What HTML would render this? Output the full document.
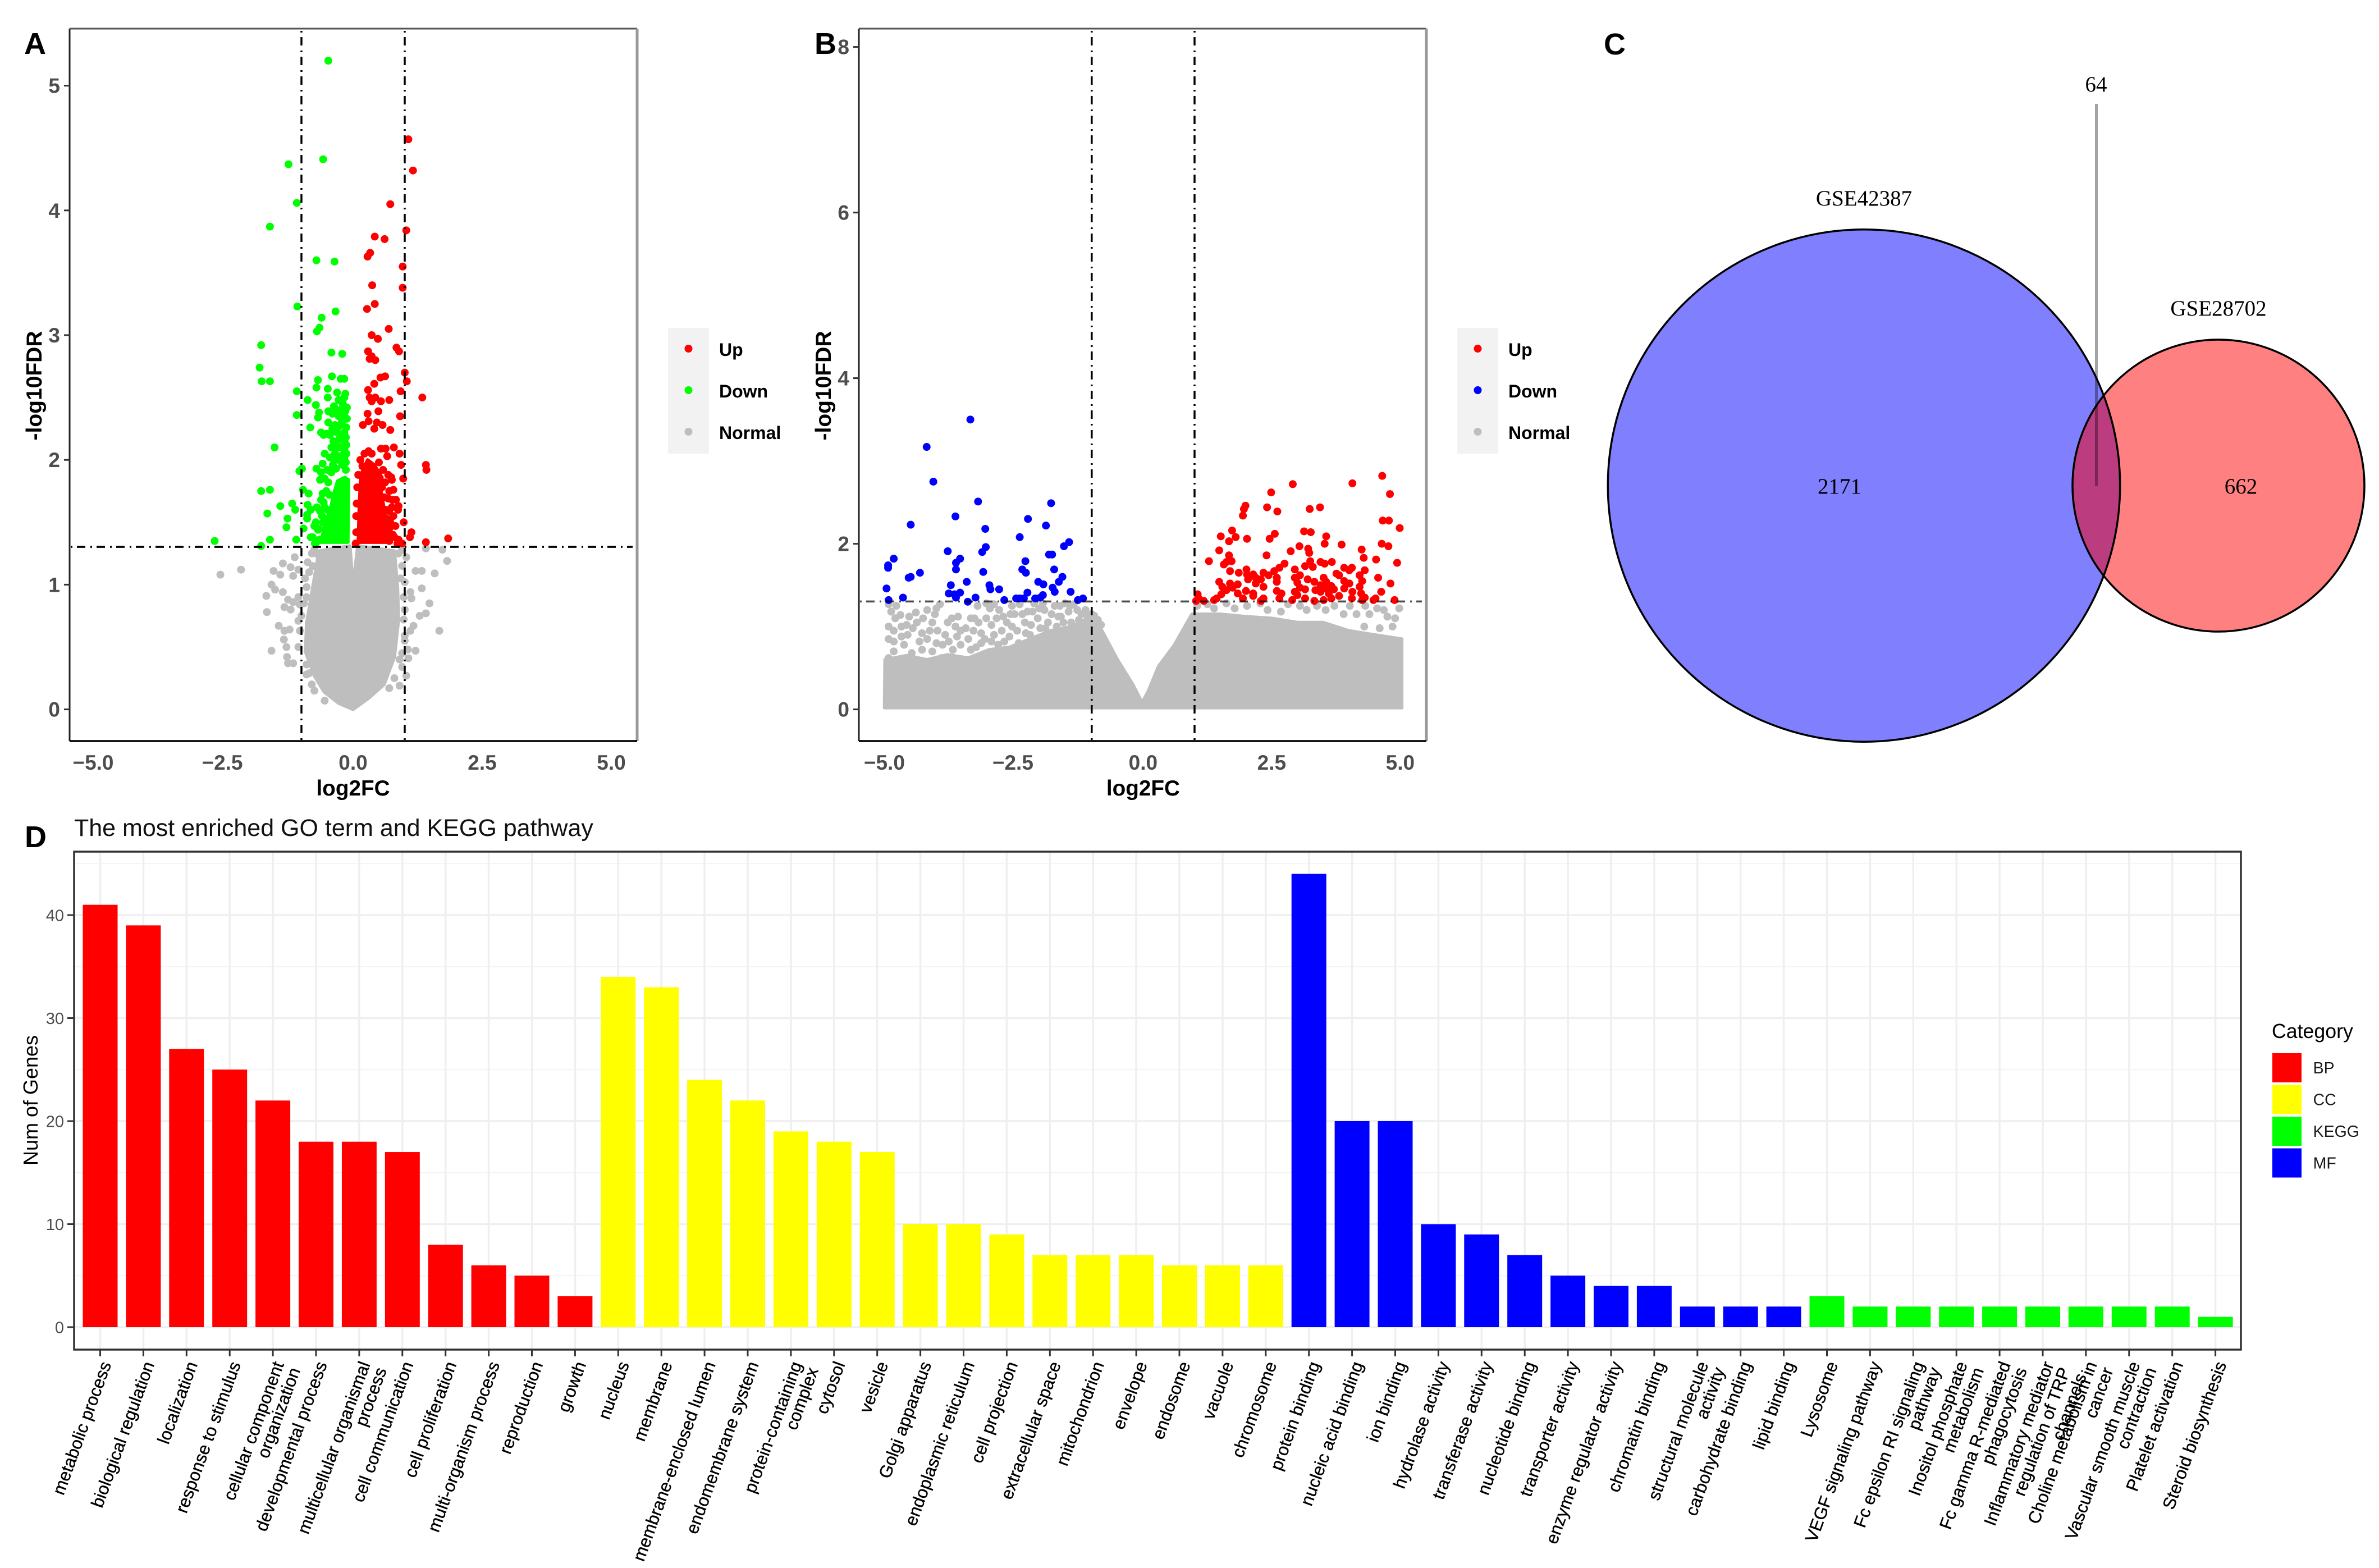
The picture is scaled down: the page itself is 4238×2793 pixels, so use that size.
<!DOCTYPE html>
<html lang="en">
<head>
<meta charset="utf-8">
<title>Volcano plots, Venn diagram and enrichment bar chart</title>
<style>
html,body{margin:0;padding:0;background:#fff;}
svg{display:block;font-family:"Liberation Sans",sans-serif;}
</style>
</head>
<body>
<svg id="figure" xmlns="http://www.w3.org/2000/svg" width="4238" height="2793" viewBox="0 0 4238 2793">
<rect x="0" y="0" width="4238" height="2793" fill="#fff"/>
<g id="panelA"></g>
<g id="panelB"></g>
<g id="panelC"></g>
<g id="panelD"></g>
<text x="43" y="96" font-size="54" font-weight="700" fill="#000">A</text>
<text x="1451" y="96" font-size="54" font-weight="700" fill="#000">B</text>
<text x="2857" y="97" font-size="54" font-weight="700" fill="#000">C</text>
<text x="44" y="1509" font-size="54" font-weight="700" fill="#000">D</text>
</svg>
<script>
/* ---------- Panel A values (log2FC, -log10FDR) ---------- */
const aXTicks = [-5, -2.5, 0, 2.5, 5];
const aYTicks = [0, 1, 2, 3, 4, 5];
const aLegend = ['Up', 'Down', 'Normal'];
const aUp = [[1.07,4.57],[1.16,4.32],[.72,4.05],[1.03,3.84],[.42,3.79],[.61,3.77],[.33,3.66],[.28,3.63],[.96,3.55],[.37,3.40],[.96,3.38],[.42,3.25],[.27,3.21],[.69,3.05],[.36,3.00],[.48,2.97],[.84,2.90],[.89,2.87],[.29,2.87],[.36,2.83],[.32,2.81],[.43,2.80],[1.0,2.70],[.62,2.67],[.53,2.66],[1.04,2.63],[.41,2.61],[.29,2.56],[.92,2.55],[1.34,2.50],[.32,2.50],[.43,2.50],[.36,2.47],[.54,2.47],[.70,2.48],[.28,2.37],[.49,2.39],[.91,2.35],[.46,2.30],[.57,2.28],[.19,2.28],[.30,2.31],[.41,2.25],[.72,2.24],[.54,2.09],[.63,2.09],[.79,2.10],[.90,2.05],[.66,2.03],[.93,1.96],[1.41,1.96],[1.42,1.92],[.97,1.85],[.74,1.86],[.75,1.84],[.78,1.76],[.68,1.69],[.83,1.68],[.88,1.63],[.70,1.59],[.98,1.50],[1.13,1.42],[1.10,1.38],[1.41,1.34],[1.84,1.37],[.70,1.45],[.77,1.40],[.86,1.33],[.95,1.33],[.3,2.07],[.22,2.05],[.14,2.0],[.36,2.05],[.18,1.95],[.1,1.88],[.08,1.78],[.07,1.65],[.06,1.55],[.06,1.42],[.5,1.98],[.58,1.92],[.62,1.82],[.68,1.88],[.56,1.78],[.6,1.7],[.7,1.75],[.76,1.68],[.64,1.6],[.78,1.55],[.72,1.5],[.82,1.47],[.8,1.38],[.88,1.36],[.62,1.45],[.58,1.38],[.7,1.35],[.75,1.62],[.87,1.6],[.65,1.53],[.05,1.33]];
const aDown = [[-.48,5.20],[-.58,4.41],[-1.25,4.37],[-1.09,4.06],[-1.61,3.87],[-.71,3.60],[-.36,3.59],[-1.08,3.23],[-.34,3.19],[-.61,3.14],[-.65,3.06],[-.70,3.03],[-1.78,2.92],[-.42,2.86],[-.21,2.85],[-1.81,2.74],[-1.77,2.63],[-1.61,2.63],[-.41,2.67],[-.68,2.64],[-.71,2.58],[-.24,2.65],[-.17,2.65],[-.49,2.57],[-1.09,2.55],[-.31,2.54],[-.15,2.53],[-.49,2.50],[-.17,2.50],[-.88,2.48],[-.28,2.48],[-.72,2.44],[-.37,2.43],[-1.09,2.36],[-.66,2.38],[-.68,2.34],[-.48,2.39],[-.32,2.38],[-.15,2.39],[-.17,2.35],[-.28,2.35],[-.48,2.30],[-.35,2.28],[-.83,2.26],[-.13,2.26],[-.62,2.22],[-.51,2.21],[-.57,2.20],[-.31,2.22],[-.17,2.22],[-.31,2.15],[-.17,2.15],[-1.52,2.10],[-.55,2.05],[-.35,2.05],[-.17,2.08],[-.24,2.03],[-.17,2.01],[-.59,1.97],[-.39,1.96],[-.21,1.96],[-.99,1.93],[-1.04,1.91],[-.71,1.93],[-.62,1.90],[-.64,1.84],[-1.78,1.75],[-1.61,1.76],[-.97,1.76],[-.86,1.73],[-.59,1.73],[-1.41,1.63],[-1.18,1.65],[-1.12,1.60],[-.88,1.64],[-.82,1.60],[-1.66,1.57],[-1.27,1.53],[-1.29,1.46],[-.89,1.56],[-.89,1.53],[-.64,1.59],[-.57,1.66],[-.96,1.45],[-.75,1.47],[-1.61,1.36],[-1.10,1.36],[-.82,1.38],[-1.78,1.31],[-2.68,1.35],[-.68,1.44],[-.71,1.34],[-.12,2.42],[-.2,2.45],[-.25,2.4],[-.4,2.37],[-.22,2.3],[-.12,2.33],[-.27,2.27],[-.4,2.25],[-.45,2.2],[-.14,2.18],[-.25,2.18],[-.38,2.15],[-.13,2.12],[-.23,2.1],[-.3,2.1],[-.42,2.1],[-.13,2.05],[-.28,2.0],[-.36,2.0],[-.45,2.02],[-.14,1.98],[-.5,1.92],[-.42,1.9],[-.33,1.93],[-.14,1.92],[-.55,1.85],[-.48,1.82],[-.52,1.75],[-.46,1.72],[-.62,1.68],[-.7,1.62],[-.55,1.62],[-.6,1.55],[-.72,1.5],[-.66,1.45],[-.78,1.38],[-.74,1.33],[-.65,1.36],[-.58,1.5],[-.5,1.6]];
const aNormal = [[-2.57,1.08],[-2.17,1.12],[-1.54,1.11],[-1.41,1.08],[-1.36,1.17],[-1.13,1.22],[-1.21,1.14],[-1.06,1.12],[-1.16,1.07],[-1.58,1.00],[-1.51,.96],[-1.36,.94],[-1.68,.91],[-1.26,.88],[-1.16,.86],[-1.33,.82],[-1.67,.78],[-1.21,.80],[-1.06,.90],[-1.44,.67],[-1.33,.63],[-1.23,.64],[-1.34,.56],[-1.29,.50],[-1.58,.47],[-1.28,.42],[-1.26,.37],[-1.16,.37],[-1.06,.50],[-1.03,.63],[-1.06,.71],[-.90,.36],[-.85,.29],[-.80,.20],[-1.03,.84],[-.90,.90],[-.93,1.05],[-.88,1.18],[-.8,1.25],[1.03,1.22],[1.41,1.29],[1.73,1.28],[1.82,1.19],[1.33,1.11],[1.58,1.09],[1.21,1.11],[1.33,.97],[1.48,.85],[1.11,.94],[1.13,.89],[1.41,.77],[1.29,.75],[1.67,.63],[1.17,.67],[1.11,.63],[1.0,.59],[1.21,.47],[1.07,.41],[1.03,.27],[.95,.34],[.90,.19],[1.0,.80],[1.06,.48],[.95,1.15],[1.0,1.02],[.98,.9],[-.75,1.28],[-.68,1.24],[-.78,1.15],[-.85,1.1],[-.9,.98],[-.95,.85],[-1.0,.75],[.88,1.25],[.95,1.28],[.92,1.05],[.98,.72],[1.0,.55],[.95,.45],[.9,.4],[.8,.25],[.7,.17],[-.9,.28],[-.75,.15],[-.55,.07]];
/* dense interior outlines of the overplotted clouds */
const aNormalCore = [[0,.0],[.3,.09],[.6,.2],[.8,.42],[.88,.72],[.86,.98],[.8,1.27],[.09,1.31],[.035,1.11],[.008,.86],[-.025,1.11],[-.06,1.31],[-.66,1.27],[-.78,.98],[-.9,.69],[-.92,.46],[-.75,.27],[-.56,.14],[-.28,.05]];
const aUpCore = [[.1,1.34],[.12,1.64],[.15,1.88],[.28,2.0],[.41,1.96],[.56,1.86],[.54,1.75],[.62,1.56],[.68,1.4],[.74,1.34]];
const aDownCore = [[-.1,1.34],[-.09,1.84],[-.16,1.86],[-.3,1.83],[-.38,1.72],[-.44,1.6],[-.54,1.5],[-.6,1.38],[-.64,1.34]];

/* ---------- Panel B values (log2FC, -log10FDR) ---------- */
const bXTicks = [-5, -2.5, 0, 2.5, 5];
const bYTicks = [0, 2, 4, 6, 8];
const bLegend = ['Up', 'Down', 'Normal'];
const bDown = [[-3.36,3.50],[-4.21,3.17],[-4.08,2.75],[-3.21,2.51],[-1.79,2.49],[-3.65,2.33],[-2.24,2.30],[-4.52,2.23],[-1.89,2.22],[-3.07,2.18],[-2.40,2.08],[-1.44,2.02],[-1.54,1.97],[-3.06,1.96],[-3.13,1.90],[-3.80,1.91],[-1.83,1.87],[-1.77,1.87],[-4.85,1.82],[-3.56,1.82],[-3.64,1.77],[-2.29,1.79],[-4.96,1.74],[-4.96,1.71],[-3.64,1.69],[-2.35,1.69],[-2.28,1.65],[-1.73,1.69],[-3.11,1.66],[-4.34,1.65],[-4.52,1.60],[-4.56,1.59],[-1.57,1.60],[-1.64,1.54],[-2.04,1.54],[-1.94,1.51],[-3.43,1.54],[-3.74,1.50],[-2.99,1.50],[-2.97,1.45],[-4.99,1.46],[-2.80,1.45],[-1.76,1.47],[-1.72,1.42],[-1.41,1.42],[-3.78,1.40],[-3.67,1.39],[-3.56,1.41],[-3.64,1.35],[-2.25,1.41],[-1.95,1.38],[-2.0,1.35],[-2.10,1.34],[-3.26,1.35],[-4.67,1.35],[-2.40,1.34],[-2.47,1.34],[-2.32,1.34],[-1.27,1.32],[-1.17,1.34],[-4.95,1.32],[-3.41,1.30],[-2.70,1.32]];
const bUp = [[4.65,2.82],[2.91,2.72],[4.07,2.73],[2.49,2.62],[4.80,2.60],[1.99,2.46],[2.41,2.44],[1.96,2.42],[3.24,2.42],[3.44,2.44],[2.61,2.39],[1.94,2.34],[4.66,2.28],[4.78,2.28],[4.99,2.19],[1.73,2.16],[3.13,2.15],[3.26,2.14],[2.56,2.12],[1.51,2.09],[3.56,2.09],[1.80,2.08],[2.02,2.06],[1.67,2.03],[2.46,2.06],[4.64,2.00],[3.86,1.99],[3.53,2.0],[4.77,1.97],[3.04,1.97],[4.25,1.93],[3.21,1.94],[1.48,1.92],[2.87,1.91],[2.40,1.86],[3.23,1.89],[1.67,1.86],[4.29,1.83],[4.53,1.81],[3.67,1.78],[1.28,1.79],[4.94,1.77],[1.72,1.79],[1.62,1.78],[3.25,1.79],[3.45,1.78],[3.53,1.76],[2.75,1.76],[1.57,1.75],[3.15,1.73],[3.30,1.72],[2.65,1.71],[3.91,1.71],[4.06,1.71],[4.01,1.68],[2.95,1.69],[2.01,1.69],[2.55,1.67],[4.31,1.68],[1.69,1.67],[1.86,1.65],[3.76,1.64],[2.02,1.63],[2.14,1.63],[2.34,1.65],[3.81,1.62],[4.21,1.62],[3.05,1.62],[2.19,1.59],[2.44,1.62],[2.60,1.59],[4.57,1.59],[2.95,1.59],[3.51,1.59],[2.04,1.57],[2.29,1.57],[3.20,1.57],[3.91,1.55],[1.48,1.54],[4.26,1.55],[3.33,1.54],[2.19,1.52],[2.60,1.54],[1.69,1.52],[3.00,1.53],[3.56,1.54],[4.81,1.52],[4.01,1.52],[1.84,1.51],[1.54,1.48],[3.45,1.50],[3.66,1.49],[2.34,1.48],[3.05,1.47],[4.21,1.48],[1.74,1.47],[3.56,1.46],[3.91,1.46],[3.15,1.45],[1.62,1.44],[2.60,1.43],[3.35,1.44],[3.71,1.45],[2.0,1.43],[4.63,1.42],[2.95,1.42],[3.45,1.42],[4.07,1.42],[1.84,1.40],[2.14,1.40],[2.69,1.40],[3.61,1.40],[4.24,1.40],[1.06,1.39],[1.52,1.39],[3.0,1.38],[2.14,1.37],[3.81,1.37],[4.31,1.35],[1.08,1.34],[1.43,1.34],[4.52,1.34],[2.34,1.34],[1.94,1.34],[3.15,1.34],[3.66,1.34],[2.65,1.34],[4.06,1.34],[1.03,1.31],[1.18,1.31],[1.38,1.32],[2.29,1.31],[2.90,1.32],[3.33,1.31],[3.51,1.32],[4.26,1.32],[4.89,1.32],[4.48,1.32]];
const bNormal = [[-4.95,1.27],[-4.9,1.18],[-4.82,1.1],[-4.95,1.0],[-4.85,.95],[-4.7,.88],[-4.95,.85],[-4.55,1.12],[-4.42,1.17],[-4.4,1.05],[-4.48,.98],[-4.3,.92],[-4.15,.95],[-4.2,.85],[-4.65,.78],[-4.85,.7],[-4.95,.62],[-4.5,.68],[-4.3,.72],[-4.1,.7],[-4.02,.8],[-4.05,1.15],[-4.02,1.22],[-3.95,1.27],[-3.92,.62],[-3.9,.78],[-3.8,1.05],[-3.72,1.1],[-3.65,1.0],[-3.6,1.12],[-3.55,.95],[-3.75,.62],[-3.7,.72],[-3.55,.78],[-3.4,.85],[-3.35,.72],[-3.25,.75],[-3.15,.8],[-3.35,1.1],[-3.28,1.1],[-3.2,1.05],[-3.22,1.25],[-3.05,1.28],[-2.98,1.22],[-2.9,1.27],[-2.8,1.2],[-2.85,1.1],[-2.95,1.02],[-2.9,.9],[-2.95,.82],[-2.82,.78],[-2.75,.95],[-2.65,1.05],[-2.6,.88],[-2.55,1.25],[-2.5,1.15],[-2.4,1.27],[-2.45,.95],[-2.42,.8],[-2.3,1.05],[-2.25,1.18],[-2.2,.9],[-2.12,1.28],[-2.05,1.1],[-2.0,.98],[-1.95,1.28],[-1.92,1.2],[-1.85,1.05],[-1.8,.9],[-1.78,1.15],[-1.68,1.0],[-1.62,1.25],[-1.6,1.12],[-1.5,.95],[-1.45,1.18],[-1.4,1.05],[-1.35,1.27],[-1.3,.98],[-1.2,1.15],[-1.15,1.05],[-1.08,1.12],[-1.0,1.15],[-.95,1.13],[-.88,1.08],[-.82,1.02],[-4.8,1.25],[-4.6,1.02],[-4.72,1.14],[-4.28,1.1],[-4.2,1.2],[-4.7,1.0],[-4.85,.82],[-4.58,.9],[-4.35,.82],[-4.1,1.05],[-4.0,.95],[-3.85,.9],[-3.78,.82],[-3.62,.88],[-3.45,.98],[-3.3,.95],[-3.15,.92],[-3.05,1.1],[-3.08,.85],[-2.72,1.12],[-2.7,.82],[-2.58,1.15],[-2.55,1.0],[-2.35,1.15],[-2.28,.92],[-2.18,1.02],[-2.15,1.18],[-2.02,1.22],[-1.9,.98],[-1.72,1.25],[-1.65,1.12],[-1.52,1.28],[-1.55,1.05],[-1.42,1.25],[-1.28,1.2],[-1.25,1.08],[-1.12,1.2],[-1.05,1.05],[1.05,1.25],[1.25,1.27],[1.38,1.22],[1.62,1.28],[1.78,1.22],[2.02,1.25],[2.28,1.28],[2.42,1.2],[2.68,1.18],[2.82,1.27],[3.05,1.25],[3.18,1.2],[3.38,1.25],[3.55,1.2],[3.72,1.25],[3.9,1.15],[4.02,1.25],[4.15,1.15],[4.32,1.25],[4.4,1.15],[4.55,1.22],[4.68,1.2],[4.75,1.12],[4.9,1.1],[4.98,1.22],[4.3,1.0],[4.6,.98],[4.85,1.0]];
const bNormalCore = [[-5.03,.02],[-5.02,.6],[-4.6,.65],[-4.2,.6],[-3.8,.66],[-3.4,.62],[-3,.72],[-2.6,.75],[-2.2,.85],[-1.8,.95],[-1.4,1.0],[-1.0,1.12],[-.8,.95],[-.5,.6],[-.2,.3],[-.02,.08],[.1,.22],[.3,.52],[.6,.77],[.95,1.15],[1.5,1.15],[2,1.12],[2.5,1.1],[3,1.05],[3.5,1.05],[4,.95],[4.5,.9],[5.03,.85],[5.03,.02]];

/* ---------- Panel C values ---------- */
const vennNames = ['GSE42387', 'GSE28702'];
const vennOnly = [2171, 662];
const vennShared = [64];

/* ---------- Panel D values ---------- */
const termNames = ['metabolic process','biological regulation','localization','response to stimulus','cellular component\norganization','developmental process','multicellular organismal\nprocess','cell communication','cell proliferation','multi-organism process','reproduction','growth','nucleus','membrane','membrane-enclosed lumen','endomembrane system','protein-containing\ncomplex','cytosol','vesicle','Golgi apparatus','endoplasmic reticulum','cell projection','extracellular space','mitochondrion','envelope','endosome','vacuole','chromosome','protein binding','nucleic acid binding','ion binding','hydrolase activity','transferase activity','nucleotide binding','transporter activity','enzyme regulator activity','chromatin binding','structural molecule\nactivity','carbohydrate binding','lipid binding','Lysosome','VEGF signaling pathway','Fc epsilon RI signaling\npathway','Inositol phosphate\nmetabolism','Fc gamma R-mediated\nphagocytosis','Inflammatory mediator\nregulation of TRP\nchannels','Choline metabolism in\ncancer','Vascular smooth muscle\ncontraction','Platelet activation','Steroid biosynthesis'];
const geneCounts = [41,39,27,25,22,18,18,17,8,6,5,3,34,33,24,22,19,18,17,10,10,9,7,7,7,6,6,6,44,20,20,10,9,7,5,4,4,2,2,2,3,2,2,2,2,2,2,2,2,1];
const termCategories = ['BP','BP','BP','BP','BP','BP','BP','BP','BP','BP','BP','BP','CC','CC','CC','CC','CC','CC','CC','CC','CC','CC','CC','CC','CC','CC','CC','CC','MF','MF','MF','MF','MF','MF','MF','MF','MF','MF','MF','MF','KEGG','KEGG','KEGG','KEGG','KEGG','KEGG','KEGG','KEGG','KEGG','KEGG'];
const categoryLegend = ['BP','CC','KEGG','MF'];
const countTicks = [0,10,20,30,40];
const countMinorTicks = [5,15,25,35,45];

/* ---------- helpers ---------- */
const NS = 'http://www.w3.org/2000/svg';
function make(parent, tag, attrs, text) {
  const el = document.createElementNS(NS, tag);
  for (const k in attrs) el.setAttribute(k, attrs[k]);
  if (text !== undefined) el.textContent = text;
  parent.appendChild(el);
  return el;
}
function fmtX(v) {
  return (v < 0 ? '\u2212' : '') + Math.abs(v).toFixed(1);
}
function coreFill(parent, pts, sx, sy, color, name, strokeWidth) {
  const el = make(parent, 'polygon', {points: pts.map(p => sx(p[0]) + ',' + sy(p[1])).join(' '), fill: color, stroke: color, 'stroke-width': strokeWidth, 'stroke-linejoin': 'round'});
  
  
}
function dots(parent, pts, sx, sy, color, name) {
  for (const p of pts) {
    const el = make(parent, 'circle', {cx: sx(p[0]), cy: sy(p[1]), r: 7, fill: color});
    
    
  }
}

/* ---------- volcano panels ---------- */
function volcano(cfg) {
  const g = document.getElementById(cfg.id);
  const sx = v => cfg.x0 + v * cfg.xu;
  const sy = v => cfg.y0 - v * cfg.yu;

  coreFill(g, cfg.normalCore, sx, sy, '#bebebe', 'normal-point-cloud', 6);
  dots(g, cfg.normal, sx, sy, '#bebebe', 'normal-point');
  if (cfg.upCore) coreFill(g, cfg.upCore, sx, sy, cfg.upColor, 'up-point-cloud', 6);
  if (cfg.downCore) coreFill(g, cfg.downCore, sx, sy, cfg.downColor, 'down-point-cloud', 6);
  dots(g, cfg.up, sx, sy, cfg.upColor, 'up-point');
  dots(g, cfg.down, sx, sy, cfg.downColor, 'down-point');

  const dash = '3 8 15 9';
  for (const v of [-1, 1]) {
    const l = make(g, 'line', {x1: sx(v), x2: sx(v), y1: cfg.top + 4, y2: cfg.bottom - 2, stroke: '#000', 'stroke-width': 3.5, 'stroke-dasharray': dash});
    
    
  }
  const h = make(g, 'line', {x1: cfg.left + 2, x2: cfg.right - 8, y1: sy(1.303), y2: sy(1.303), stroke: '#000', 'stroke-opacity': cfg.hOpacity, 'stroke-width': 3.5, 'stroke-dasharray': dash});
  
  

  const top = make(g, 'line', {x1: cfg.left, x2: cfg.right, y1: cfg.top, y2: cfg.top, stroke: '#555', 'stroke-width': 3});
  
  
  const right = make(g, 'line', {x1: cfg.right, x2: cfg.right, y1: cfg.top, y2: cfg.bottom, stroke: '#999', 'stroke-width': 5});
  
  
  const leftAxis = make(g, 'line', {x1: cfg.left, x2: cfg.left, y1: cfg.top, y2: cfg.bottom, stroke: '#222', 'stroke-width': 3});
  
  
  const bottomAxis = make(g, 'line', {x1: cfg.left, x2: cfg.right, y1: cfg.bottom, y2: cfg.bottom, stroke: '#000', 'stroke-width': 3.5});
  
  

  for (const v of cfg.xTicks) {
    const t = make(g, 'text', {x: sx(v) - (v < 0 ? 3 : 0), y: 1371, 'text-anchor': 'middle', 'font-size': 37, 'font-weight': 700, fill: '#4d4d4d'}, fmtX(v));
    
    
  }
  for (const v of cfg.yTicks) {
    const m = make(g, 'line', {x1: cfg.left - 10, x2: cfg.left, y1: sy(v), y2: sy(v), stroke: '#333', 'stroke-width': 3});
    
    
    const t = make(g, 'text', {x: cfg.left - 17, y: sy(v) + 13, 'text-anchor': 'end', 'font-size': 37, 'font-weight': 700, fill: '#4d4d4d'}, String(v));
    
    
  }
  const xt = make(g, 'text', {x: sx(0), y: 1417, 'text-anchor': 'middle', 'font-size': 38.7, 'font-weight': 700, fill: '#000'}, 'log2FC');
  
  
  const yt = make(g, 'text', {transform: 'translate(' + (cfg.left - 50) + ',687) rotate(-90)', 'text-anchor': 'middle', 'font-size': 39, 'font-weight': 700, fill: '#000'}, '-log10FDR');
  
  

  const legendX = cfg.right + 55;
  const box = make(g, 'rect', {x: legendX, y: 584, width: 73, height: 224, fill: '#f2f2f2'});
  
  
  const colors = [cfg.upColor, cfg.downColor, '#bebebe'];
  cfg.legend.forEach((label, i) => {
    const y = 621 + i * 74;
    const d = make(g, 'circle', {cx: legendX + 36.5, cy: y, r: 7, fill: colors[i]});
    
    
    const t = make(g, 'text', {x: legendX + 91, y: y + 13, 'font-size': 32, 'font-weight': 700, fill: '#000'}, label);
    
    
  });
}
volcano({id:'panelA', left:124, right:1135, top:51, bottom:1320, x0:629, xu:92, y0:1263.6, yu:222.2,
  up:aUp, down:aDown, normal:aNormal, normalCore:aNormalCore, upCore:aUpCore, downCore:aDownCore,
  upColor:'#ff0000', downColor:'#00ff00', xTicks:aXTicks, yTicks:aYTicks, legend:aLegend, hOpacity:1});
volcano({id:'panelB', left:1530, right:2541, top:51, bottom:1320, x0:2036.4, xu:91.6, y0:1263.6, yu:147.5,
  up:bUp, down:bDown, normal:bNormal, normalCore:bNormalCore,
  upColor:'#ff0000', downColor:'#0000ff', xTicks:bXTicks, yTicks:bYTicks, legend:bLegend, hOpacity:.7});

/* ---------- Venn ---------- */
(function () {
  const g = document.getElementById('panelC');
  const areaScale = 9.65;
  const cy = 865;
  const cxs = [3320.5, 3952];
  const rs = vennOnly.map(n => areaScale * Math.sqrt(n + vennShared[0]));
  const fills = ['#8080ff', '#ff8080'];
  const defs = make(g, 'defs', {});
  const clip = make(defs, 'clipPath', {id: 'leftSetClip'});
  make(clip, 'circle', {cx: cxs[0], cy: cy, r: rs[0]});
  vennNames.forEach((n, i) => {
    const c = make(g, 'circle', {cx: cxs[i], cy: cy, r: rs[i], fill: fills[i]});
    
    
  });
  const lens = make(g, 'circle', {cx: cxs[1], cy: cy, r: rs[1], fill: '#bc3c80', 'clip-path': 'url(#leftSetClip)'});
  
  
  const lead = make(g, 'line', {x1: 3734.5, x2: 3734.5, y1: 185, y2: 866, stroke: '#000', 'stroke-opacity': .36, 'stroke-width': 5});
  
  
  vennNames.forEach((n, i) => {
    const c = make(g, 'circle', {cx: cxs[i], cy: cy, r: rs[i], fill: 'none', stroke: '#000', 'stroke-width': 3.5});
    
    
    const t = make(g, 'text', {x: cxs[i], y: cy - rs[i] - 43, 'text-anchor': 'middle', 'font-family': '"Liberation Serif",serif', 'font-size': 39, fill: '#000'}, n);
    
    
  });
  const countX = [3277, 3992];
  vennOnly.forEach((n, i) => {
    const t = make(g, 'text', {x: countX[i], y: 879, 'text-anchor': 'middle', 'font-family': '"Liberation Serif",serif', 'font-size': 39, fill: '#000'}, String(n));
    
    
  });
  const sh = make(g, 'text', {x: 3734, y: 163, 'text-anchor': 'middle', 'font-family': '"Liberation Serif",serif', 'font-size': 39, fill: '#000'}, String(vennShared[0]));
  
  
})();

/* ---------- bar chart ---------- */
(function () {
  const g = document.getElementById('panelD');
  const L = 132, R = 3992, T = 1517, B = 2404;
  const x0 = 178.5, step = 76.9, barW = 62;
  const y0 = 2364, yu = 18.35;
  const colorOf = {BP: '#ff0000', CC: '#ffff00', KEGG: '#00ff00', MF: '#0000ff'};
  const sx = i => x0 + i * step;
  const sy = v => y0 - v * yu;

  const title = make(g, 'text', {x: 132, y: 1489, 'font-size': 43, fill: '#111'}, 'The most enriched GO term and KEGG pathway');
  
  

  for (const v of countMinorTicks) {
    const l = make(g, 'line', {x1: L, x2: R, y1: sy(v), y2: sy(v), stroke: '#f4f4f4', 'stroke-width': 2});
    
    
  }
  for (const v of countTicks) {
    const l = make(g, 'line', {x1: L, x2: R, y1: sy(v), y2: sy(v), stroke: '#efefef', 'stroke-width': 3.5});
    
    
    const m = make(g, 'line', {x1: L - 12, x2: L, y1: sy(v), y2: sy(v), stroke: '#333', 'stroke-width': 3});
    
    
    const t = make(g, 'text', {x: L - 18, y: sy(v) + 10.5, 'text-anchor': 'end', 'font-size': 29, fill: '#4d4d4d'}, String(v));
    
    
  }
  termNames.forEach((name, i) => {
    const l = make(g, 'line', {x1: sx(i), x2: sx(i), y1: T, y2: B, stroke: '#efefef', 'stroke-width': 3.5});
    
    
  });
  termNames.forEach((name, i) => {
    const bar = make(g, 'rect', {x: sx(i) - barW / 2, y: sy(geneCounts[i]), width: barW, height: y0 - sy(geneCounts[i]), fill: colorOf[termCategories[i]]});
    
    
  });
  const border = make(g, 'rect', {x: L, y: T, width: R - L, height: B - T, fill: 'none', stroke: '#333', 'stroke-width': 3.5});
  
  

  const angle = 70, lh = 31;
  const dx = lh * Math.sin(angle * Math.PI / 180), dy = lh * Math.cos(angle * Math.PI / 180);
  termNames.forEach((name, i) => {
    const m = make(g, 'line', {x1: sx(i), x2: sx(i), y1: B, y2: B + 12, stroke: '#333', 'stroke-width': 3});
    
    
    name.split('\n').forEach((line, j) => {
      const px = sx(i) + 20 + j * dx, py = 2430 + j * dy;
      const t = make(g, 'text', {transform: 'translate(' + px + ',' + py + ') rotate(-' + angle + ')', 'text-anchor': 'end', 'font-size': 31, fill: '#000', stroke: '#000', 'stroke-width': .4}, line);
      
      
    });
  });

  const yTitle = make(g, 'text', {transform: 'translate(67,1960) rotate(-90)', 'text-anchor': 'middle', 'font-size': 36, fill: '#000'}, 'Num of Genes');
  
  

  const lt = make(g, 'text', {x: 4047, y: 1849, 'font-size': 35.7, fill: '#000'}, 'Category');
  
  
  categoryLegend.forEach((c, i) => {
    const y = 1876 + i * 56.5;
    const k = make(g, 'rect', {x: 4048, y: y, width: 52, height: 52, fill: colorOf[c]});
    
    
    const t = make(g, 'text', {x: 4120.6, y: y + 36, 'font-size': 28.5, fill: '#1a1a1a'}, c);
    
    
  });
})();
</script>
</body>
</html>
